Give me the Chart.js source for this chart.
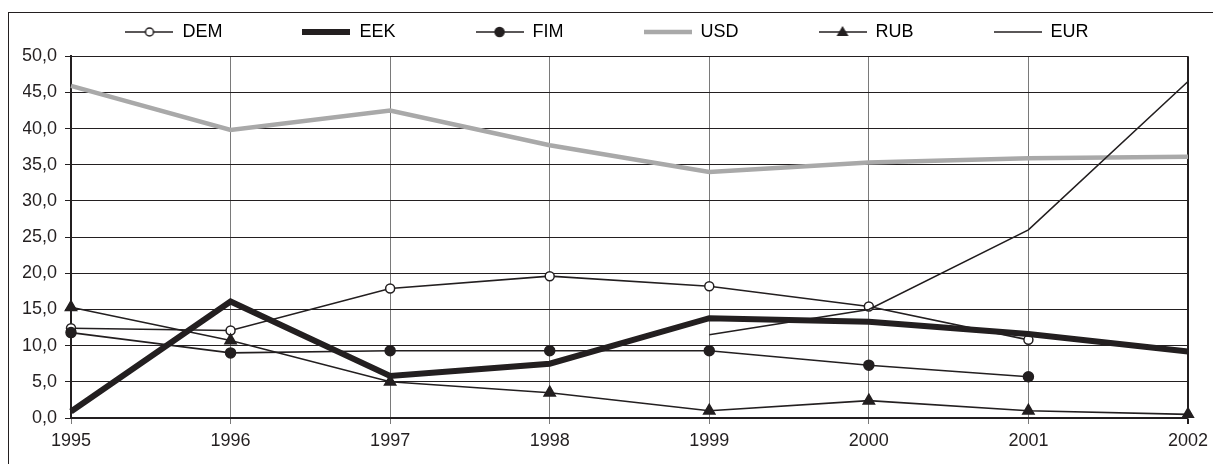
<!DOCTYPE html>
<html>
<head>
<meta charset="utf-8">
<script src="https://cdn.jsdelivr.net/npm/chart.js@4.4.1/dist/chart.umd.min.js"></script>
<style>
  html, body { margin: 0; padding: 0; background: #fff; overflow: hidden; }
  #frame {
    position: absolute; left: 8px; top: 12px;
    width: 1205px; height: 452px;
    border-left: 1px solid #231f20; border-top: 1px solid #231f20;
  }
</style>
</head>
<body>
<div id="frame"><canvas id="rateChart"></canvas></div>
<script>
// Years on the x axis
const years = ['1995', '1996', '1997', '1998', '1999', '2000', '2001', '2002'];

// Shares per currency
const dem = [12.4, 12.1, 17.9, 19.6, 18.2, 15.4, 10.8, null];
const eek = [0.9, 16.1, 5.8, 7.5, 13.8, 13.3, 11.6, 9.2];
const fim = [11.8, 9.0, 9.3, 9.3, 9.3, 7.3, 5.7, null];
const usd = [45.9, 39.8, 42.5, 37.7, 34.0, 35.3, 35.9, 36.1];
const rub = [15.3, 10.7, 5.0, 3.5, 1.0, 2.4, 1.0, 0.5];
const eur = [null, null, null, null, 11.5, 15.0, 26.0, 46.5];

const seriesNames = ['DEM', 'EEK', 'FIM', 'USD', 'RUB', 'EUR'];
const seriesData = [dem, eek, fim, usd, rub, eur];

// Axis ticks
const yMin = 0;
const yMax = 50;
const yStep = 5;

const ink = '#231f20';
const usdGrey = '#a9a9a9';

const styles = [
    { color: ink, width: 1.6, point: 'circle', radius: 4.5, fill: '#ffffff' },
    { color: ink, width: 6, point: false, radius: 0, fill: ink },
    { color: ink, width: 1.6, point: 'circle', radius: 5, fill: ink },
    { color: usdGrey, width: 4.5, point: false, radius: 0, fill: usdGrey },
    { color: ink, width: 1.6, point: 'triangle', radius: 6.5, fill: ink },
    { color: ink, width: 1.6, point: false, radius: 0, fill: ink }
];

// Small picture of line + marker used as the legend symbol
function legendSymbol(style) {
    const c = document.createElement('canvas');
    c.width = 48;
    c.height = 16;
    const g = c.getContext('2d');
    g.strokeStyle = style.color;
    g.lineWidth = style.width;
    g.beginPath();
    g.moveTo(0, 8);
    g.lineTo(48, 8);
    g.stroke();
    if (style.point === 'circle') {
        g.beginPath();
        g.arc(24, 8, style.radius - 0.5, 0, Math.PI * 2);
        g.fillStyle = style.fill;
        g.fill();
        g.lineWidth = 1.5;
        g.stroke();
    } else if (style.point === 'triangle') {
        g.beginPath();
        g.moveTo(24, 2);
        g.lineTo(30, 12);
        g.lineTo(18, 12);
        g.closePath();
        g.fillStyle = style.fill;
        g.fill();
    }
    return c;
}

const symbols = styles.map(legendSymbol);

Chart.defaults.font.family = '"Liberation Sans", Arial, sans-serif';
Chart.defaults.font.size = 18;
Chart.defaults.color = ink;

const datasets = seriesNames.map((name, i) => ({
    label: name,
    data: seriesData[i],
    borderColor: styles[i].color,
    borderWidth: styles[i].width,
    backgroundColor: styles[i].fill,
    pointStyle: styles[i].point || 'circle',
    pointRadius: styles[i].radius,
    pointBorderWidth: 1.5,
    pointBorderColor: styles[i].color,
    pointBackgroundColor: styles[i].fill,
    tension: 0,
    spanGaps: false,
    fill: false,
    order: seriesNames.length - i
}));

const ctx = document.getElementById('rateChart').getContext('2d');
new Chart(ctx, {
    type: 'line',
    data: { labels: years, datasets: datasets },
    options: {
        responsive: true,
        maintainAspectRatio: false,
        animation: false,
        layout: { padding: { left: 14, right: 23, top: 0, bottom: 0 } },
        plugins: {
            tooltip: { enabled: false },
            // empty title used only as a small gap under the legend
            title: {
                display: true,
                text: '',
                weight: 100,
                font: { size: 1 },
                padding: { top: 4, bottom: 0 }
            },
            legend: {
                position: 'top',
                labels: {
                    usePointStyle: true,
                    pointStyleWidth: 48,
                    padding: 10,
                    color: ink,
                    font: { size: 18 },
                    generateLabels: function(chart) {
                        return chart.data.datasets.map((ds, i) => ({
                            // trailing spaces give the wide gap between entries
                            text: i < seriesNames.length - 1 ? ds.label + '              ' : ds.label,
                            pointStyle: symbols[i],
                            fillStyle: styles[i].color,
                            strokeStyle: styles[i].color,
                            lineWidth: 0,
                            hidden: false,
                            datasetIndex: i
                        }));
                    }
                }
            }
        },
        scales: {
            x: {
                offset: false,
                grid: {
                    color: (c) => c.index === years.length - 1 ? ink : '#7a7a7a',
                    lineWidth: (c) => c.index === years.length - 1 ? 2 : 1,
                    drawTicks: true,
                    tickLength: 6
                },
                border: { color: ink, width: 1.5 },
                ticks: { padding: 6, maxRotation: 0, autoSkip: false, color: ink },
                afterFit: (scale) => { scale.height = 47; }
            },
            y: {
                min: yMin,
                max: yMax,
                grid: { color: ink, lineWidth: 1, drawTicks: true, tickLength: 6 },
                border: { color: ink, width: 2 },
                ticks: {
                    stepSize: yStep,
                    padding: 8,
                    color: ink,
                    callback: (v) => v.toFixed(1).replace('.', ',')
                },
                afterFit: (scale) => { scale.width = 48; }
            }
        }
    }
});
</script>
</body>
</html>
